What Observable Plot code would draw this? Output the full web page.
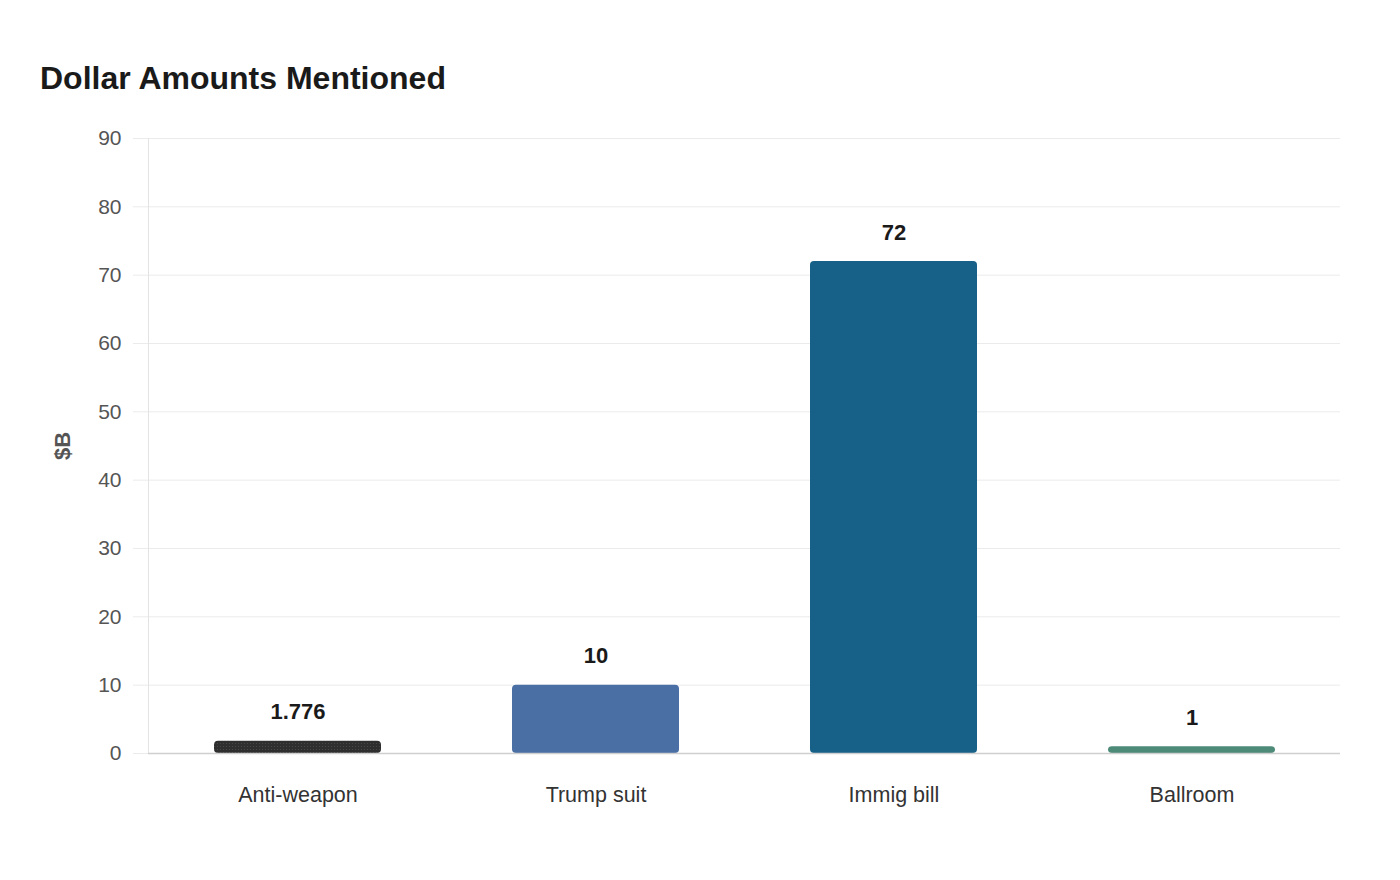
<!DOCTYPE html>
<html>
<head>
<meta charset="utf-8">
<script src="https://cdn.jsdelivr.net/npm/d3@7"></script>
<script src="https://cdn.jsdelivr.net/npm/@observablehq/plot@0.6"></script>
<style>
  body { margin: 0; background: #fff; font-family: "Liberation Sans", Arial, sans-serif; }
  #title { margin: 60px 0 0 40px; font-size: 32px; line-height: 37px; font-weight: bold; color: #1a1a1a; }
</style>
</head>
<body>
<div id="title">Dollar Amounts Mentioned</div>
<div id="chart"></div>
<script>
const categories = ["Anti-weapon", "Trump suit", "Immig bill", "Ballroom"];
const amounts = [1.776, 10, 72, 1];
const amountLabels = ["1.776", "10", "72", "1"];
const barColors = ["url(#speckle)", "#4a6fa5", "#176087", "#4e8a78"];
const yTicks = [0, 10, 20, 30, 40, 50, 60, 70, 80, 90];

const rows = categories.map((c, i) => ({ category: c, amount: amounts[i], label: amountLabels[i] }));

const chart = Plot.plot({
  width: 1400,
  height: 783,
  marginLeft: 148,
  marginRight: 60,
  marginTop: 41,
  marginBottom: 127,
  style: { fontFamily: "Liberation Sans, Arial, sans-serif", background: "#fff" },
  x: { domain: categories, paddingInner: 0.44, paddingOuter: 0.22, label: null },
  y: { domain: [0, 90], label: null },
  color: { type: "ordinal", domain: categories, range: barColors },
  marks: [
    Plot.ruleY(yTicks, { stroke: "#ebebeb", strokeWidth: 1, insetLeft: -15 }),
    Plot.frame({ anchor: "left", stroke: "#e3e3e3" }),
    Plot.axisY({ ticks: yTicks, tickSize: 0, tickPadding: 27, fontSize: 21, color: "#555", label: null }),
    Plot.axisX({ tickSize: 0, tickPadding: 33, fontSize: 21.5, color: "#333", label: null }),
    Plot.barY(rows, { x: "category", y: "amount", fill: "category", rx: 4 }),
    Plot.ruleY([0], { stroke: "#cfcfcf", strokeWidth: 1.5 }),
    Plot.text(rows, { x: "category", y: "amount", text: "label", dy: -29, fontSize: 22, fontWeight: "bold", fill: "#1a1a1a" }),
    Plot.text(["$B"], { frameAnchor: "left", dx: -86, dy: 14, rotate: -90, fontSize: 22, fontWeight: "bold", fill: "#555" })
  ]
});

// speckled fill for the first bar
const ns = "http://www.w3.org/2000/svg";
const defs = document.createElementNS(ns, "defs");
const pat = document.createElementNS(ns, "pattern");
pat.setAttribute("id", "speckle");
pat.setAttribute("width", "3");
pat.setAttribute("height", "3");
pat.setAttribute("patternUnits", "userSpaceOnUse");
const bg = document.createElementNS(ns, "rect");
bg.setAttribute("width", "3");
bg.setAttribute("height", "3");
bg.setAttribute("fill", "#2e2e2e");
const dot = document.createElementNS(ns, "circle");
dot.setAttribute("cx", "1.5");
dot.setAttribute("cy", "1.5");
dot.setAttribute("r", "0.6");
dot.setAttribute("fill", "#4a4a4a");
pat.appendChild(bg);
pat.appendChild(dot);
defs.appendChild(pat);
chart.insertBefore(defs, chart.firstChild);

document.getElementById("chart").appendChild(chart);
</script>
</body>
</html>
